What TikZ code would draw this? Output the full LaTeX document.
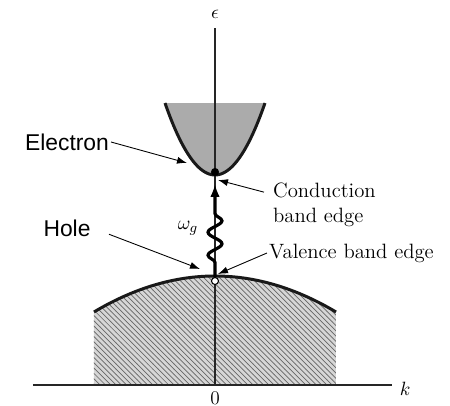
\documentclass[tikz,border=0pt]{standalone}
\usepackage{fontspec}
\newfontfamily\lblsans{Liberation Sans}
\usetikzlibrary{arrows.meta,positioning,patterns,decorations.pathmorphing}
\tikzset{
  ax/.style     = {line width=0.6pt, draw=black!85},
  bnd/.style    = {line width=1.7pt, draw=black!90},
  cfill/.style  = {fill=black!33},
  vfill/.style  = {fill=black!16, postaction={pattern=north west lines, pattern color=black!60}},
  edot/.style   = {circle, fill=black, inner sep=0pt, minimum size=4.6pt},
  hdot/.style   = {circle, draw=black, fill=white, line width=0.6pt, inner sep=0pt, minimum size=4pt},
  sanslbl/.style= {font=\lblsans\fontsize{13}{15}\selectfont, inner sep=1pt},
  txtlbl/.style = {font=\fontsize{11.8}{14.5}\selectfont, align=left, inner sep=1pt},
  mth/.style    = {font=\fontsize{11}{13}\selectfont},
  ptr/.style    = {-{Latex[length=2mm,width=1.4mm]}, line width=0.5pt},
  phot/.style   = {-{Latex[length=2.6mm,width=1.9mm]}, line width=1.8pt, decorate,
                   decoration={snake, amplitude=1.4mm, segment length=4.6mm, pre length=2.9mm, post length=5.2mm}},
}
\begin{document}
\begin{tikzpicture}[x=0.02cm, y=0.02cm]
\useasboundingbox (-215,-21) rectangle (235,385);
\fill[vfill] (-121,0) -- plot[domain=-121:121, samples=60] (\x,{109-0.00246*\x*\x}) -- (121,0) -- cycle;
\fill[cfill] plot[domain=-50:50, samples=60] (\x,{210+0.0288*\x*\x}) -- cycle;
\coordinate (o) at (0,0);
\coordinate (ytop) at (0,357);
\coordinate (xl) at (-182,0);
\coordinate (xr) at (177,0);
\draw[ax] (xl) -- (xr); \draw[ax] (o) -- (ytop);
\draw[bnd] plot[domain=-121:121, samples=60] (\x,{109-0.00246*\x*\x});
\draw[bnd] plot[domain=-50:50, samples=60] (\x,{210+0.0288*\x*\x});
\node[mth, above=2pt of ytop] (eps) {$\epsilon$};
\node[mth, right=1pt of xr, yshift=-2pt] (kk) {$k$};
\node[mth, below=0.5pt of o] (zero) {0};
\node[edot] (el) at (0,213) {};
\node[hdot] (ho) at (0,104) {};
\draw[phot, shorten >=1.5mm] (ho) -- (el);
\node[mth] (wg) at (-27,157) {$\omega_g$};
\node[sanslbl] (elbl) at (-148,243) {Electron};
\node[sanslbl] (hlbl) at (-148,157) {Hole};
\node[txtlbl, anchor=west] (cbe) at (56,180) {Conduction\\band edge};
\node[txtlbl, anchor=west] (vbe) at (52,132) {Valence band edge};
\coordinate (etip) at (-28,222);
\coordinate (htip) at (-15,116);
\coordinate (ctip) at (3,205);
\coordinate (vtip) at (3,111);
\draw[ptr](elbl.east)--(etip); \draw[ptr, shorten <=3.5mm](hlbl.east)--(htip);
\draw[ptr]([xshift=-4pt,yshift=-6.5pt]cbe.north west)--(ctip); \draw[ptr](vbe.west)--(vtip);
\end{tikzpicture}
\end{document}
